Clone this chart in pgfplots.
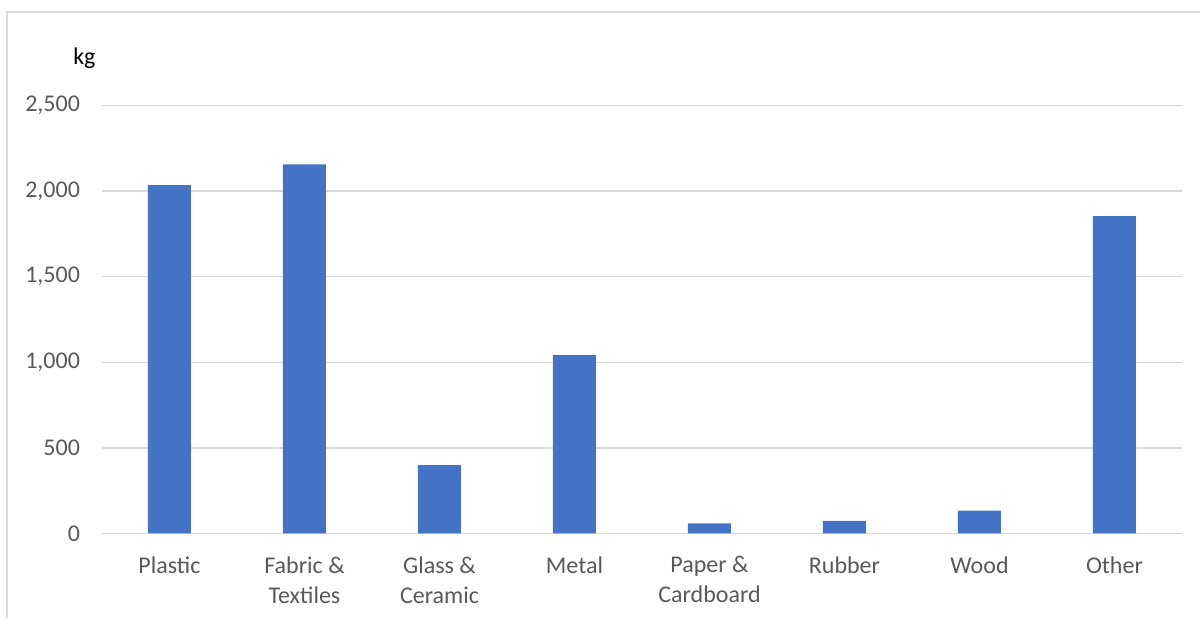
\documentclass[border=0pt]{standalone}
\usepackage{pgfplots}
\pgfplotsset{compat=1.18}
\usepackage{fontspec}
\setmainfont{Carlito}
\definecolor{barblue}{HTML}{4472C4}
\definecolor{gridgray}{HTML}{D9D9D9}
\definecolor{ticktext}{HTML}{595959}
\begin{document}
\begin{tikzpicture}[x=1pt,y=1pt]
\useasboundingbox (0,0) rectangle (600,309);
% chart frame (top and left edges)
\draw[gridgray, line width=0.75pt] (3.5,0) -- (3.5,303) -- (600,303);
\begin{axis}[
  at={(51pt,42.35pt)}, anchor=south west,
  scale only axis, width=540pt, height=213.8pt,
  xmin=-0.5, xmax=7.5, ymin=0, ymax=2500,
  xtick={0,...,7},
  xticklabels={Plastic, {Fabric \&\\Textiles}, {Glass \&\\Ceramic}, Metal, {Paper \&\\Cardboard}, Rubber, Wood, Other},
  ytick={0,500,...,2500},
  ymajorgrids, grid style={gridgray, line width=0.75pt},
  axis line style={draw=none},
  major tick length=0pt,
  /pgf/number format/assume math mode=true,
  /pgf/number format/fixed,
  /pgf/number format/1000 sep={,},
  tick label style={font=\fontsize{12}{15}\selectfont, text=ticktext},
  xticklabel style={align=center, anchor=north, yshift=-8pt},
  yticklabel style={anchor=east, xshift=-7.5pt},
  clip=false,
]
\draw[gridgray, line width=0.75pt] (axis cs:-0.5,0) -- (axis cs:7.5,0);
\addplot[ybar, bar width=21.5pt, fill=barblue, draw=none] coordinates {
  (0,2035) (1,2157) (2,399) (3,1042) (4,58) (5,72) (6,132) (7,1855)
};
\end{axis}
\node[anchor=base, font=\fontsize{12}{15}\selectfont, text=black] at (42.2,277) {kg};
\end{tikzpicture}
\end{document}
